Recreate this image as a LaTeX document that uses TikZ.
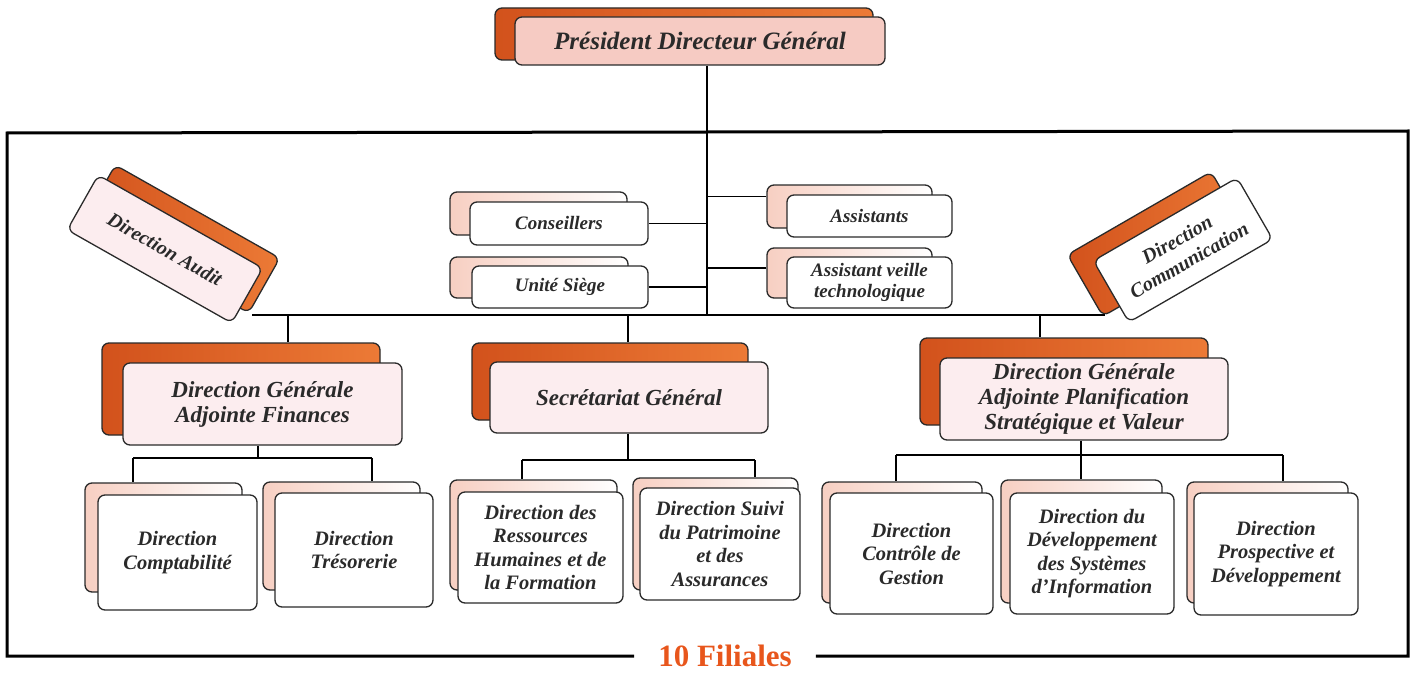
\documentclass[tikz,border=0pt]{standalone}
\usepackage{fontspec}
\setmainfont{Liberation Serif}
\usetikzlibrary{calc}
\pgfdeclarelayer{bg}
\pgfsetlayers{bg,main}
\definecolor{orD}{HTML}{D2521C}
\definecolor{orL}{HTML}{EC7A36}
\definecolor{orH}{HTML}{FBE6DA}
\definecolor{pkL}{HTML}{F7CFC2}
\definecolor{pkF}{HTML}{FCEDEF}
\definecolor{pkP}{HTML}{F6CBC3}
\definecolor{pkW}{HTML}{FEF6F4}
\definecolor{ink}{HTML}{2A2A2A}
\definecolor{filc}{HTML}{E8561C}
\tikzset{
  wh/.style 2 args={minimum width=#1pt, minimum height=#2pt},
  boxbase/.style={draw=ink, line width=1.3pt, rounded corners=7pt, inner sep=2pt},
  orback/.style={boxbase, left color=orD, middle color=orH, right color=orL},
  pkback/.style={boxbase, left color=pkL, middle color=white, right color=white},
  pkfront/.style={boxbase, fill=pkF, align=center, text=ink},
  whfront/.style={boxbase, fill=white, align=center, text=ink},
  pdgfront/.style={boxbase, left color=pkP, middle color=pkW, right color=pkP, align=center, text=ink},
  fsP/.style={font=\bfseries\itshape\fontsize{25}{29}\selectfont},
  fsS/.style={font=\bfseries\itshape\fontsize{19}{21}\selectfont},
  fsM/.style={font=\bfseries\itshape\fontsize{23}{25}\selectfont},
  fsL/.style={font=\bfseries\itshape\fontsize{20.5}{23.5}\selectfont},
  fsR/.style={font=\bfseries\itshape\fontsize{20}{24}\selectfont},
  conn/.style={draw=black, line width=1.3pt},
  frameline/.style={draw=black, line width=3pt},
}
\begin{document}
\begin{tikzpicture}[x=1pt,y=-1pt]
\useasboundingbox (0,0) rectangle (1422,674);

% ---------- PDG ----------
\node[orback, wh={378}{52}] (pdg-b) at (684,34) {};
\node[pdgfront, wh={370}{48}, fsP] (pdg) at (700,41) {Président Directeur Général};

% ---------- Staff boxes ----------
\node[pkback, wh={177}{43}] (cons-b) at (538.5,213.5) {};
\node[whfront, wh={178}{43}, fsS] (cons) at (559,223.5) {Conseillers};
\node[pkback, wh={178}{41}] (us-b) at (539,277.5) {};
\node[whfront, wh={176}{42}, fsS] (us) at (560,287) {Unité Siège};
\node[pkback, wh={165}{43}] (asst-b) at (849.5,206.5) {};
\node[whfront, wh={165}{42}, fsS] (asst) at (869.5,216) {Assistants};
\node[pkback, wh={165}{50}] (av-b) at (849.5,273) {};
\node[whfront, wh={165}{51}, fsS] (av) at (869.5,282.5) {Assistant veille\\technologique};

% ---------- Rotated boxes ----------
\node[orback, wh={189}{63}, rotate=-29.5] (audit-b) at (182,239) {};
\node[pkfront, wh={189}{63}, rotate=-29.5, fsR] (audit) at (165,249) {Direction Audit};
\node[orback, wh={166}{71}, rotate=30] (com-b) at (1157,244) {};
\node[whfront, wh={166}{71}, rotate=30, fsR] (com) at (1183,250) {Direction\\Communication};

% ---------- Second level ----------
\node[orback, wh={278}{92}] (dgf-b) at (241,389) {};
\node[pkfront, wh={279}{82}, fsM] (dgf) at (262.5,404) {Direction Générale\\Adjointe Finances};
\node[orback, wh={276}{77}] (sg-b) at (610,381.5) {};
\node[pkfront, wh={278}{71}, fsM] (sg) at (629,397.5) {Secrétariat Général};
\node[orback, wh={288}{87}] (dgp-b) at (1064,381.5) {};
\node[pkfront, wh={288}{82}, fsM] (dgp) at (1084,399) {Direction Générale\\Adjointe Planification\\Stratégique et Valeur};

% ---------- Third level ----------
\node[pkback, wh={157}{109}] (compta-b) at (163.5,537.5) {};
\node[whfront, wh={159}{115}, fsL] (compta) at (177.5,552.5) {Direction\\Comptabilité};
\node[pkback, wh={157}{108}] (tres-b) at (341.5,536) {};
\node[whfront, wh={158}{114}, fsL] (tres) at (354,550) {Direction\\Trésorerie};
\node[pkback, wh={167}{110}] (drh-b) at (533.5,535) {};
\node[whfront, wh={165}{111}, fsL] (drh) at (540.5,547.5) {Direction des\\Ressources\\Humaines et de\\la Formation};
\node[pkback, wh={165}{112}] (suivi-b) at (715.5,534) {};
\node[whfront, wh={160}{112}, fsL] (suivi) at (720,544) {Direction Suivi\\du Patrimoine\\et des\\Assurances};
\node[pkback, wh={160}{121}] (ctrl-b) at (902,542.5) {};
\node[whfront, wh={163}{121}, fsL] (ctrl) at (911.5,553.5) {Direction\\Contrôle de\\Gestion};
\node[pkback, wh={161}{123}] (dev-b) at (1081.5,541.5) {};
\node[whfront, wh={164}{121}, fsL] (dev) at (1092,553.5) {Direction du\\Développement\\des Systèmes\\d’Information};
\node[pkback, wh={161}{121}] (prosp-b) at (1267.5,542.5) {};
\node[whfront, wh={164}{122}, fsL] (prosp) at (1276,554) {Direction\\Prospective et\\Développement};

% ---------- Frame ----------
\node[text=filc, font=\bfseries\fontsize{31}{33}\selectfont, inner xsep=24pt, inner ysep=0pt] (fil) at (725,656) {10 Filiales};
\coordinate (fbl) at (7,656);
\coordinate (ftl) at (7,133);
\coordinate (ftr) at (1408,131);
\coordinate (fbr) at (1408,656);
\draw[frameline] (fil.west) -- (fbl) -- (ftl) -- (ftr) -- (fbr) -- (fil.east);

% ---------- Connectors ----------
\coordinate (tr) at (707,315);
\coordinate (busL) at (252,315);
\coordinate (busR) at (1105,315);
\coordinate (d1) at (288,315);
\coordinate (d2) at (628,315);
\coordinate (d3) at (1040,315);
\coordinate (asstL) at ($(asst-b.west)+(0,-10)$);
\coordinate (avL) at ($(av-b.west)+(0,-5)$);
\coordinate (j1) at (258,458);
\coordinate (j1a) at (133,458);
\coordinate (j1b) at (372,458);
\coordinate (j2) at (628,460);
\coordinate (j2a) at (522,460);
\coordinate (j2b) at (755,460);
\coordinate (j3) at (1081,455);
\coordinate (j3a) at (896,455);
\coordinate (j3b) at (1283,455);
\begin{pgfonlayer}{bg}
  \draw[conn] (pdg.south -| tr) -- (tr);
  \draw[conn] (cons.east) -- (cons.east -| tr);
  \draw[conn] (us.east) -- (us.east -| tr);
  \draw[conn] (asstL) -- (asstL -| tr);
  \draw[conn] (avL) -- (avL -| tr);
  \draw[conn] (busL) -- (busR);
  \draw[conn] (d1) -- (d1 |- dgf-b.north);
  \draw[conn] (d2) -- (d2 |- sg-b.north);
  \draw[conn] (d3) -- (d3 |- dgp-b.north);
  \draw[conn] (j1 |- dgf.south) -- (j1);
  \draw[conn] (j1a) -- (j1b);
  \draw[conn] (j1a) -- (j1a |- compta-b.north);
  \draw[conn] (j1b) -- (j1b |- tres-b.north);
  \draw[conn] (j2 |- sg.south) -- (j2);
  \draw[conn] (j2a) -- (j2b);
  \draw[conn] (j2a) -- (j2a |- drh-b.north);
  \draw[conn] (j2b) -- (j2b |- suivi-b.north);
  \draw[conn] (j3 |- dgp.south) -- (j3 |- dev-b.north);
  \draw[conn] (j3a) -- (j3b);
  \draw[conn] (j3a) -- (j3a |- ctrl-b.north);
  \draw[conn] (j3b) -- (j3b |- prosp-b.north);
\end{pgfonlayer}
\end{tikzpicture}
\end{document}
